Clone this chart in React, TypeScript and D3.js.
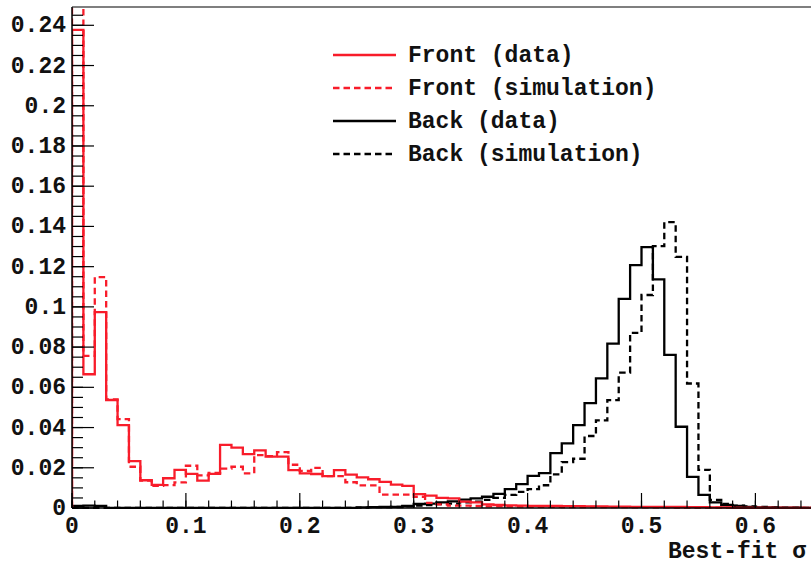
import React from "react";
import * as d3 from "d3";

const BIN_WIDTH = 0.01;

const frontData = [
  0.2377, 0.0665, 0.0974, 0.0537, 0.0412, 0.0233, 0.0138, 0.0115, 0.0148, 0.019,
  0.017, 0.0136, 0.017, 0.0314, 0.03, 0.0268, 0.0287, 0.0255, 0.0255, 0.0188,
  0.0172, 0.0169, 0.0158, 0.0188, 0.0166, 0.0152, 0.0143, 0.013, 0.0116, 0.011,
  0.0069, 0.0062, 0.005, 0.0048, 0.0032, 0.0028, 0.0018, 0.0015, 0.0013, 0.0012,
  0.0011, 0.001, 0.001, 0.0009, 0.0009, 0.0008, 0.0008, 0.0007, 0.0007, 0.0006,
  0.0006, 0.0006, 0.0005, 0.0005, 0.0004, 0.0004, 0.0003, 0.0003, 0, 0,
  0, 0, 0, 0, 0, 0, 0, 0, 0, 0,
];

const frontSim = [
  0.27, 0.0756, 0.1148, 0.054, 0.0442, 0.0205, 0.0136, 0.011, 0.0114, 0.0127,
  0.021, 0.0162, 0.0175, 0.0196, 0.0205, 0.0172, 0.0263, 0.0258, 0.0278, 0.0215,
  0.0185, 0.02, 0.0158, 0.0158, 0.0128, 0.0112, 0.0112, 0.0067, 0.0067, 0.0067,
  0.0056, 0.0025, 0.0018, 0.0012, 0.0012, 0.001, 0.0008, 0.0008, 0.0007, 0.0007,
  0.0006, 0.0006, 0.0006, 0.0005, 0.0005, 0.0005, 0.0004, 0.0004, 0.0004, 0.0003,
  0.0003, 0.0003, 0.0003, 0.0002, 0.0002, 0.0002, 0.0002, 0.0002, 0, 0,
  0, 0, 0, 0, 0, 0, 0, 0, 0, 0,
];

const backData = [
  0.001, 0.0012, 0.001, 0, 0, 0, 0, 0, 0, 0,
  0, 0, 0, 0, 0, 0, 0, 0, 0, 0,
  0, 0, 0, 0, 0, 0.0003, 0.0004, 0.0005, 0.0006, 0.001,
  0.002, 0.0022, 0.0028, 0.0033, 0.0042, 0.0048, 0.0056, 0.007, 0.0094, 0.0119,
  0.016, 0.0173, 0.0273, 0.0321, 0.0412, 0.0521, 0.0645, 0.0817, 0.104, 0.1208,
  0.1297, 0.1137, 0.0761, 0.0404, 0.0155, 0.0065, 0.0028, 0.0015, 0.001, 0.0006,
  0.0003, 0.0003, 0.0002, 0.0002, 0.0001, 0.0001, 0, 0, 0, 0,
];

const backSim = [
  0, 0, 0, 0, 0, 0, 0, 0, 0, 0,
  0, 0, 0, 0, 0, 0, 0, 0, 0, 0,
  0, 0, 0, 0, 0, 0.0002, 0.0004, 0.0004, 0.0005, 0.0008,
  0.0012, 0.0015, 0.002, 0.0022, 0.0028, 0.0032, 0.004, 0.005, 0.0065, 0.008,
  0.0094, 0.0113, 0.0167, 0.0228, 0.0245, 0.0358, 0.0436, 0.0536, 0.0673, 0.0871,
  0.1059, 0.1302, 0.1421, 0.1249, 0.0619, 0.019, 0.004, 0.002, 0.0012, 0.0008,
  0.0005, 0.0003, 0.0002, 0.0002, 0.0001, 0, 0, 0, 0, 0,
];

const yTickValues = [0, 0.02, 0.04, 0.06, 0.08, 0.1, 0.12, 0.14, 0.16, 0.18, 0.2, 0.22, 0.24];
const yTickLabels = ["0", "0.02", "0.04", "0.06", "0.08", "0.1", "0.12", "0.14", "0.16", "0.18", "0.2", "0.22", "0.24"];
const xTickValues = [0, 0.1, 0.2, 0.3, 0.4, 0.5, 0.6, 0.7];
const xTickLabels = ["0", "0.1", "0.2", "0.3", "0.4", "0.5", "0.6", ""];

const legendLabels = ["Front (data)", "Front (simulation)", "Back (data)", "Back (simulation)"];
const xTitle = "Best-fit σ";

const RED = "#f81c2a";
const BLACK = "#000000";
const FONT = "'Liberation Mono', 'DejaVu Sans Mono', monospace";

export default function App() {
  const W = 811;
  const H = 564;
  const x = d3.scaleLinear().domain([0, 0.7]).range([72, 869.3]);
  const y = d3.scaleLinear().domain([0, 0.2491]).range([508, 7]);

  const line = d3
    .line<[number, number]>()
    .x((d) => x(d[0]))
    .y((d) => y(d[1]))
    .curve(d3.curveStepAfter);

  const histPath = (vals: number[]) => {
    const pts: [number, number][] = [[0, 0]];
    vals.forEach((v, i) => pts.push([i * BIN_WIDTH, v]));
    pts.push([vals.length * BIN_WIDTH, 0]);
    return line(pts) || "";
  };

  const series = [
    { vals: backSim, color: BLACK, dash: "6.5,4" },
    { vals: backData, color: BLACK, dash: undefined },
    { vals: frontSim, color: RED, dash: "6.5,4" },
    { vals: frontData, color: RED, dash: undefined },
  ];
  const legendSeries = [
    { color: RED, dash: undefined },
    { color: RED, dash: "6.5,4" },
    { color: BLACK, dash: undefined },
    { color: BLACK, dash: "6.5,4" },
  ];

  const yMinor = d3.range(0, 0.2491, 0.005);
  const xMinor = d3.range(0, 0.7001, 0.02);

  return (
    <div style={{ position: "fixed", left: 0, top: 0, width: W, height: H, background: "#fff" }}>
      <svg width={W} height={H} style={{ display: "block" }}>
        <defs>
          <clipPath id="plotclip">
            <rect x={72} y={7} width={800} height={502} />
          </clipPath>
        </defs>
        <rect x={0} y={0} width={W} height={H} fill="#fff" />
        <g clipPath="url(#plotclip)" fill="none" strokeWidth={2.3} strokeLinejoin="miter">
          {series.map((s, i) => (
            <path key={i} d={histPath(s.vals)} stroke={s.color} strokeDasharray={s.dash} />
          ))}
        </g>
        {/* frame */}
        <line x1={72} y1={7} x2={W} y2={7} stroke="#000" strokeWidth={1.2} />
        <line x1={72} y1={7} x2={72} y2={508} stroke="#000" strokeWidth={1.5} />
        <line x1={72} y1={508} x2={W} y2={508} stroke="#000" strokeWidth={1.5} />
        {/* y ticks */}
        {yMinor.map((v, i) => (
          <line key={"ym" + i} x1={72} x2={83} y1={y(v)} y2={y(v)} stroke="#000" strokeWidth={1.2} />
        ))}
        {yTickValues.map((v, i) => (
          <g key={"yt" + i}>
            <line x1={72} x2={94} y1={y(v)} y2={y(v)} stroke="#000" strokeWidth={1.2} />
            <text x={66} y={y(v) + 7} textAnchor="end" fontFamily={FONT} fontWeight="bold" fontSize={23} fill="#111">
              {yTickLabels[i]}
            </text>
          </g>
        ))}
        {/* x ticks */}
        {xMinor.map((v, i) => (
          <line key={"xm" + i} x1={x(v)} x2={x(v)} y1={508} y2={500.5} stroke="#000" strokeWidth={1.2} />
        ))}
        {xTickValues.map((v, i) => (
          <g key={"xt" + i}>
            <line x1={x(v)} x2={x(v)} y1={508} y2={493} stroke="#000" strokeWidth={1.2} />
            {xTickLabels[i] && x(v) < W - 20 ? (
              <text x={x(v)} y={533} textAnchor="middle" fontFamily={FONT} fontWeight="bold" fontSize={23} fill="#111">
                {xTickLabels[i]}
              </text>
            ) : null}
          </g>
        ))}
        <text x={668} y={557.5} fontFamily={FONT} fontWeight="bold" fontSize={23} fill="#111">
          {xTitle}
        </text>
        {/* legend */}
        {legendLabels.map((lab, i) => {
          const cy = 55 + 33 * i;
          return (
            <g key={"lg" + i}>
              <line x1={333} x2={396} y1={cy} y2={cy} stroke={legendSeries[i].color} strokeWidth={2.3} strokeDasharray={legendSeries[i].dash} />
              <text x={408} y={cy + 7} fontFamily={FONT} fontWeight="bold" fontSize={23} fill="#111">
                {lab}
              </text>
            </g>
          );
        })}
      </svg>
    </div>
  );
}
